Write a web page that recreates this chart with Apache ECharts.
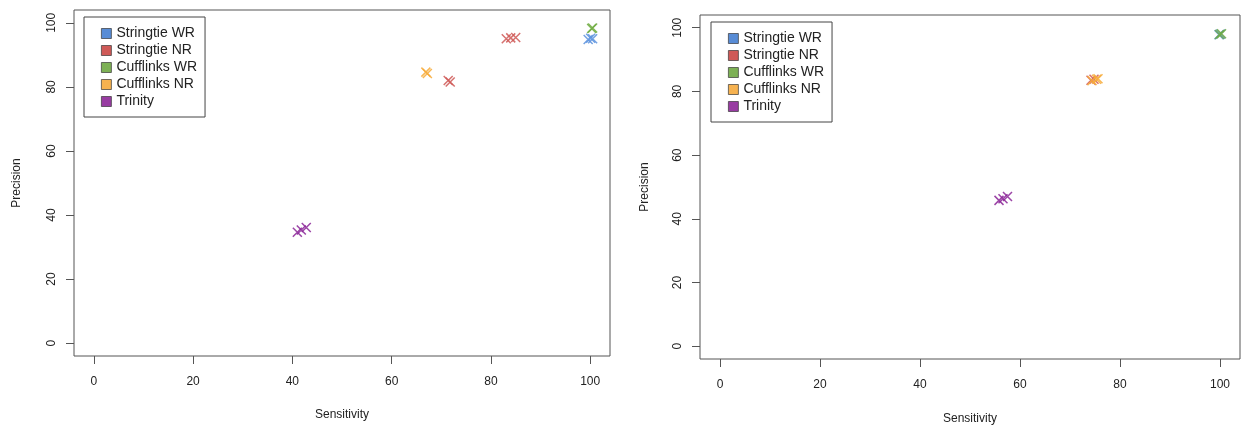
<!DOCTYPE html>
<html>
<head>
<meta charset="utf-8">
<script src="https://cdn.jsdelivr.net/npm/echarts@6/dist/echarts.min.js"></script>
<style>html,body{margin:0;padding:0;background:#fff}#c{width:1244px;height:427px}</style>
</head>
<body>
<div id="c"></div>
<script>
// ---- data ----
const seriesNames = ['Stringtie WR', 'Stringtie NR', 'Cufflinks WR', 'Cufflinks NR', 'Trinity'];
const tickValues = [0, 20, 40, 60, 80, 100];
const xTitle = 'Sensitivity';
const yTitle = 'Precision';

// left panel
const leftStringtieWR_x = [99.6, 100.1, 100.5];
const leftStringtieWR_y = [94.8, 95.2, 95.0];
const leftStringtieNR_x = [71.4, 71.8, 83.1, 84.0, 85.0];
const leftStringtieNR_y = [82.0, 81.5, 95.0, 95.3, 95.4];
const leftCufflinksWR_x = [100.3, 100.5];
const leftCufflinksWR_y = [98.2, 98.4];
const leftCufflinksNR_x = [66.9, 67.2];
const leftCufflinksNR_y = [84.6, 84.2];
const leftTrinity_x = [41.0, 41.8, 42.8];
const leftTrinity_y = [34.6, 35.3, 36.1];

// right panel
const rightStringtieWR_x = [99.8, 100.1];
const rightStringtieWR_y = [97.8, 98.0];
const rightStringtieNR_x = [74.2, 74.8];
const rightStringtieNR_y = [83.5, 83.8];
const rightCufflinksWR_x = [99.9, 100.3];
const rightCufflinksWR_y = [97.9, 98.1];
const rightCufflinksNR_x = [74.4, 75.3, 75.6];
const rightCufflinksNR_y = [83.4, 83.8, 84.0];
const rightTrinity_x = [55.8, 56.6, 57.5];
const rightTrinity_y = [45.8, 46.3, 47.0];

// ---- styles ----
const legendColors = ['#3b78cf', '#c73c3a', '#66a337', '#f4a431', '#861a92'];
const markColors = ['#5c93de', '#cf5856', '#6fab3f', '#f7aa37', '#8b2598'];
const FONT = 'Liberation Sans, Arial, sans-serif';

function zip(xs, ys) { return xs.map((x, i) => [x, ys[i]]); }

const leftData = [
  zip(leftStringtieWR_x, leftStringtieWR_y),
  zip(leftStringtieNR_x, leftStringtieNR_y),
  zip(leftCufflinksWR_x, leftCufflinksWR_y),
  zip(leftCufflinksNR_x, leftCufflinksNR_y),
  zip(leftTrinity_x, leftTrinity_y)
];
const rightData = [
  zip(rightStringtieWR_x, rightStringtieWR_y),
  zip(rightStringtieNR_x, rightStringtieNR_y),
  zip(rightCufflinksWR_x, rightCufflinksWR_y),
  zip(rightCufflinksNR_x, rightCufflinksNR_y),
  zip(rightTrinity_x, rightTrinity_y)
];

const CROSS = 'path://M0,0L10,10M10,0L0,10';

function xAxis(gi, gap) {
  return {
    type: 'value', gridIndex: gi, min: -4, max: 104,
    name: xTitle, nameLocation: 'middle', nameGap: gap,
    nameTextStyle: { color: '#222', fontSize: 12, fontFamily: FONT },
    axisLine: { show: false, onZero: false },
    axisTick: { show: true, inside: false, length: 8, customValues: tickValues, lineStyle: { color: '#555' } },
    axisLabel: { customValues: tickValues, color: '#222', fontSize: 12, fontFamily: FONT, margin: 20 },
    splitLine: { show: false }
  };
}
function yAxis(gi, gap) {
  return {
    type: 'value', gridIndex: gi, min: -4, max: 104,
    name: yTitle, nameLocation: 'middle', nameGap: gap,
    nameTextStyle: { color: '#222', fontSize: 12, fontFamily: FONT },
    axisLine: { show: false, onZero: false },
    axisTick: { show: true, inside: false, length: 8, customValues: tickValues, lineStyle: { color: '#555' } },
    axisLabel: { customValues: tickValues, rotate: 90, color: '#222', fontSize: 12, fontFamily: FONT, margin: 16 },
    splitLine: { show: false }
  };
}
function legend(left, top) {
  return {
    orient: 'vertical', left: left, top: top,
    padding: [9, 8, 8, 17],
    itemWidth: 10, itemHeight: 10, itemGap: 2,
    borderColor: '#444', borderWidth: 1, borderRadius: 0,
    backgroundColor: '#fff',
    textStyle: { fontSize: 14, fontFamily: FONT, color: '#222', lineHeight: 15 },
    data: seriesNames.map((n, i) => ({
      name: n, icon: 'rect',
      itemStyle: { color: legendColors[i], borderColor: '#333', borderWidth: 0.8 }
    }))
  };
}

const series = [];
[leftData, rightData].forEach((panel, gi) => {
  panel.forEach((d, i) => {
    series.push({
      type: 'scatter', name: seriesNames[i],
      xAxisIndex: gi, yAxisIndex: gi,
      data: d, symbol: CROSS, symbolSize: 9,
      itemStyle: { color: 'none', borderColor: markColors[i], borderWidth: 1.5, opacity: 0.85 },
      emphasis: { disabled: true }
    });
  });
});

const chart = echarts.init(document.getElementById('c'), null, { renderer: 'canvas' });
chart.setOption({
  animation: false,
  backgroundColor: '#fff',
  grid: [
    { left: 74, right: 634, top: 10, bottom: 71, outerBoundsMode: 'none', containLabel: false, show: true, borderColor: '#555', borderWidth: 1, backgroundColor: 'transparent' },
    { left: 700, right: 4, top: 15, bottom: 68, outerBoundsMode: 'none', containLabel: false, show: true, borderColor: '#555', borderWidth: 1, backgroundColor: 'transparent' }
  ],
  xAxis: [xAxis(0, 53), xAxis(1, 54)],
  yAxis: [yAxis(0, 51), yAxis(1, 49)],
  legend: [legend(84, 17), legend(711, 22)],
  series: series
});
</script>
</body>
</html>
